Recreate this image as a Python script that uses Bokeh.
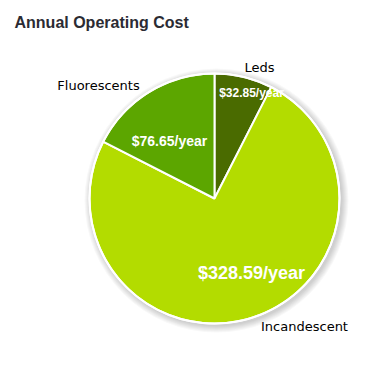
import math
from bokeh.plotting import figure
from bokeh.models import Range1d, Label, ColumnDataSource
from bokeh.embed import file_html
from bokeh.resources import INLINE

# ---- data ----
title_text = "Annual Operating Cost"
categories = ["Leds", "Incandescent", "Fluorescents"]
costs = [32.85, 328.59, 76.65]
value_labels = ["$32.85/year", "$328.59/year", "$76.65/year"]
colors = ["#4a6b00", "#b3dc00", "#5ca600"]

# ---- layout ----
W, H = 364, 354
def px(x):
    return x
def py(y):
    return H - y

cx, cy, R = px(214), py(198), 125

p = figure(width=W, height=H, output_backend="svg", toolbar_location=None,
           x_range=Range1d(0, W), y_range=Range1d(0, H), min_border=0)
p.axis.visible = False
p.grid.visible = False
p.outline_line_color = None
p.background_fill_color = "white"
p.border_fill_color = "white"

# soft shadow
for i in range(1, 8):
    p.circle(x=[cx + 2], y=[cy - 2], radius=R + i, fill_color="black",
             fill_alpha=0.028, line_color=None)

total = sum(costs)
starts, ends = [], []
a = math.pi / 2
for v in costs:
    sweep = 2 * math.pi * v / total
    starts.append(a)
    ends.append(a - sweep)
    a -= sweep

src = ColumnDataSource(dict(x=[cx] * len(costs), y=[cy] * len(costs),
                            start=starts, end=ends, color=colors))
p.wedge(x="x", y="y", radius=R, start_angle="start", end_angle="end",
        direction="clock", fill_color="color", line_color="white",
        line_width=2, source=src)
p.circle(x=[cx], y=[cy], radius=R, fill_color=None, line_color="white", line_width=2)

# label placement (page coordinates of text centres)
value_pos = [(251, 92), (251, 272), (169, 140)]
value_size = ["12px", "18px", "14px"]
cat_pos = [(259, 67), (304, 326), (98, 85)]

for txt, (x, y), fs in zip(value_labels, value_pos, value_size):
    p.add_layout(Label(x=px(x), y=py(y), text=txt, text_align="center",
                       text_baseline="middle", text_color="white",
                       text_font="Liberation Sans", text_font_style="bold",
                       text_font_size=fs))
for txt, (x, y) in zip(categories, cat_pos):
    p.add_layout(Label(x=px(x), y=py(y), text=txt, text_align="center",
                       text_baseline="middle", text_color="black",
                       text_font="DejaVu Sans", text_font_size="13px"))

p.add_layout(Label(x=px(14), y=py(22), text=title_text, text_align="left",
                   text_baseline="alphabetic", text_color="#2b2b33",
                   text_font="Liberation Sans", text_font_style="bold",
                   text_font_size="16px"))

open("out.html", "w").write(file_html(p, INLINE))
